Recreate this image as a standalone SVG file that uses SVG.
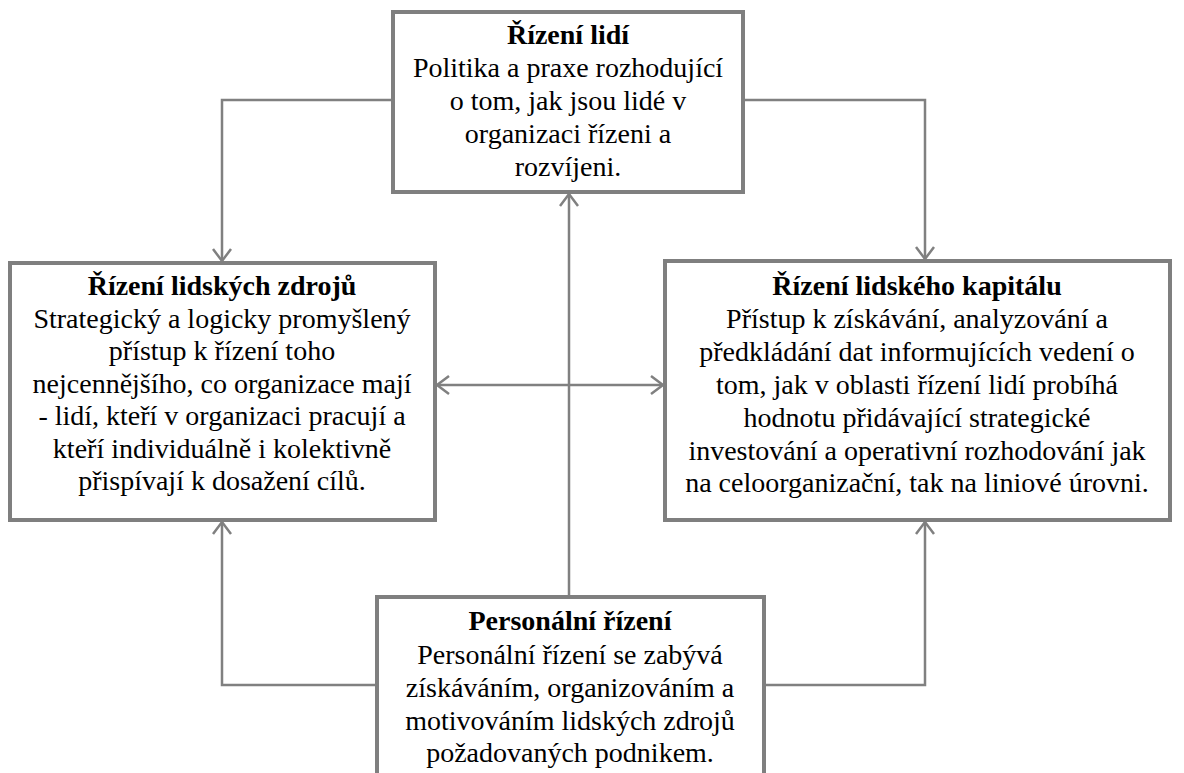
<svg xmlns="http://www.w3.org/2000/svg" width="1184" height="773" viewBox="0 0 1184 773">
<style>
.box{fill:#fff;stroke:#7f7f7f;stroke-width:4}
.t{font-family:"Liberation Serif","Times New Roman",serif;font-size:28px;fill:#000;text-anchor:middle}
.b{font-weight:bold}
.c{fill:none;stroke:#808080;stroke-width:2.5}
</style>
<defs>
<marker id="ah" markerWidth="18" markerHeight="20" refX="15" refY="10" orient="auto" markerUnits="userSpaceOnUse">
<path d="M3,1 L15,10 L3,19" fill="none" stroke="#808080" stroke-width="2.5"/>
</marker>
</defs>
<g id="connectors">
<path class="c" d="M393,100 H222 V261" marker-end="url(#ah)"/>
<path class="c" d="M743,100 H925 V259" marker-end="url(#ah)"/>
<path class="c" d="M569,597 V194" marker-end="url(#ah)"/>
<path class="c" d="M550,385 H437" marker-end="url(#ah)"/>
<path class="c" d="M550,385 H663" marker-end="url(#ah)"/>
<path class="c" d="M377,685 H222 V522" marker-end="url(#ah)"/>
<path class="c" d="M764,685 H925 V522" marker-end="url(#ah)"/>
</g>
<g id="node-top">
<rect class="box" x="393" y="12" width="350" height="180"/>
<text class="t b" x="568" y="44">Řízení lidí</text>
<text class="t" x="568" y="77">Politika  a praxe rozhodující</text>
<text class="t" x="568" y="110">o tom, jak jsou lidé v</text>
<text class="t" x="568" y="143">organizaci řízeni a</text>
<text class="t" x="568" y="176">rozvíjeni.</text>
</g>
<g id="node-left">
<rect class="box" x="10" y="263" width="425" height="257"/>
<text class="t b" x="222" y="295">Řízení lidských zdrojů</text>
<text class="t" x="222" y="328">Strategický  a logicky  promyšlený</text>
<text class="t" x="222" y="360">přístup k řízení toho</text>
<text class="t" x="222" y="393">nejcennějšího, co organizace mají</text>
<text class="t" x="222" y="425">- lidí, kteří v organizaci pracují a</text>
<text class="t" x="222" y="458">kteří individuálně i kolektivně</text>
<text class="t" x="222" y="490">přispívají k dosažení cílů.</text>
</g>
<g id="node-right">
<rect class="box" x="665" y="261" width="505" height="259"/>
<text class="t b" x="917" y="295">Řízení lidského kapitálu</text>
<text class="t" x="917" y="328">Přístup k získávání, analyzování a</text>
<text class="t" x="917" y="361">předkládání dat informujících vedení o</text>
<text class="t" x="917" y="394">tom, jak v oblasti řízení lidí probíhá</text>
<text class="t" x="917" y="427">hodnotu přidávající strategické</text>
<text class="t" x="917" y="460">investování a operativní rozhodování jak</text>
<text class="t" x="917" y="492">na celoorganizační, tak na liniové úrovni.</text>
</g>
<g id="node-bottom">
<rect class="box" x="377" y="597" width="387" height="200"/>
<text class="t b" x="570" y="630">Personální řízení</text>
<text class="t" x="570" y="664">Personální řízení se zabývá</text>
<text class="t" x="570" y="697">získáváním, organizováním a</text>
<text class="t" x="570" y="730">motivováním lidských zdrojů</text>
<text class="t" x="570" y="762">požadovaných podnikem.</text>
</g>
</svg>
